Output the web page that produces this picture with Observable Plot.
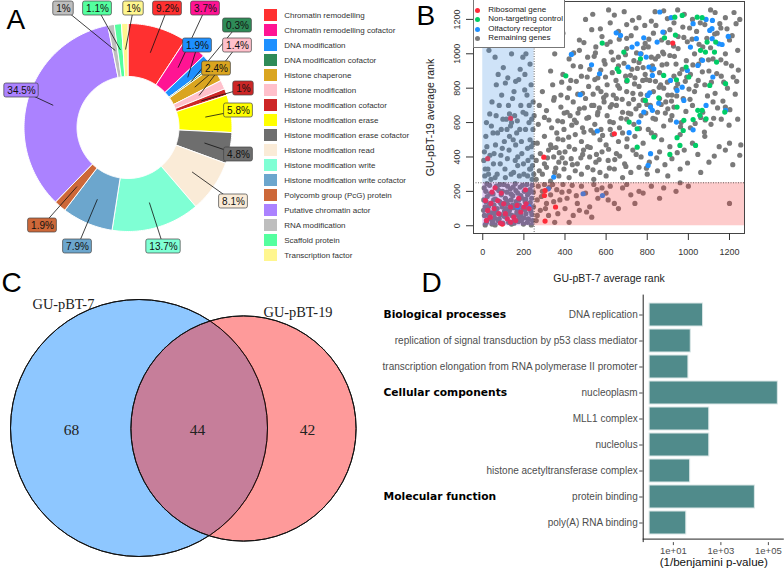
<!DOCTYPE html>
<html><head><meta charset="utf-8">
<script src="https://cdn.jsdelivr.net/npm/d3@7"></script>
<script src="https://cdn.jsdelivr.net/npm/@observablehq/plot@0.6"></script>
<style>
body{margin:0;background:#fff;}
#root{position:relative;width:784px;height:569px;overflow:hidden;background:#fff;font-family:"Liberation Sans",Arial,sans-serif;}
.panel{position:absolute;}
.panel svg{overflow:visible;}
.lg{position:absolute;font-size:8px;color:#222;white-space:nowrap;line-height:1;}
.lgdot{position:absolute;width:5px;height:5px;border-radius:50%;}
</style></head><body><div id="root"></div>
<script>
// ---------------- DATA ----------------
// Panel A
const categories = ["Chromatin remodelling","Chromatin remodelling cofactor","DNA modification","DNA modification cofactor","Histone chaperone","Histone modification","Histone modification cofactor","Histone modification erase","Histone modification erase cofactor","Histone modification read","Histone modification write","Histone modification write cofactor","Polycomb group (PcG) protein","Putative chromatin actor","RNA modification","Scaffold protein","Transcription factor"];
const percentages = [9.2,3.7,1.9,0.3,2.4,1.4,1,5.8,4.8,8.1,13.7,7.9,1.9,34.5,1,1.1,1];
const categoryColors = ["#ff3030","#ff1493","#1e90ff","#2e8b57","#daa520","#ffc0cb","#cd2626","#ffff00","#6e6e6e","#faebd7","#7fffd4","#6ca6cd","#cd6839","#ab82ff","#bebebe","#54ff9f","#fff68f"];

// Panel B  [GU-pBT-7 rank, GU-pBT-19 rank]
const rankTicks = [0,200,400,600,800,1000,1200];
const hitThreshold = 250;
const ribosomalGenes = [[24,390],[135,624],[297,399],[640,535],[924,1062],[303,205],[300,176],[303,27],[354,109],[60,221],[45,196],[24,89],[18,31],[37,50],[78,70],[86,16],[110,70],[135,21],[151,50],[167,118],[208,209],[200,109],[211,128],[13,147],[73,147],[102,128],[135,109],[95,10],[160,30],[185,80],[55,100],[120,40],[175,160],[225,100],[40,130],[90,190]];
const nonTargeting = [[934,1213],[970,1223],[1043,1213],[1067,1210],[937,1109],[884,1093],[1059,1020],[1091,1068],[1127,1010],[1083,1010],[1137,952],[1181,826],[1104,816],[989,923],[1002,865],[942,849],[880,874],[856,744],[791,729],[945,690],[1046,671],[1056,642],[1067,671],[1086,622],[1023,618],[978,613],[975,554],[959,467],[910,415],[945,512],[1035,467],[1177,661],[751,564],[712,603],[832,516],[751,457],[581,1062],[686,1010],[654,913],[662,897],[702,845],[404,872],[767,971],[1133,1068]];
const olfactory = [[861,1243],[916,1210],[876,1126],[848,1068],[649,1122],[670,1107],[431,996],[529,936],[568,884],[474,762],[557,551],[712,541],[759,603],[783,661],[816,690],[856,713],[803,758],[812,773],[825,874],[808,923],[832,913],[783,1093],[751,1058],[767,1000],[726,1039],[945,787],[913,845],[970,806],[995,903],[1010,1039],[1023,1175],[1039,1088],[1046,932],[1069,962],[1086,1200],[1104,1136],[1116,1088],[1117,1194],[1148,1058],[1164,1054],[1194,1101],[1115,1146],[1119,865],[1086,700],[1181,671],[978,729],[1023,558],[942,603],[825,671],[795,981],[707,923],[816,419],[804,351],[345,283],[319,215],[488,186],[582,176],[224,112],[170,109]];
const remainingGenes = [
[5,150],[8,60],[12,110],[15,200],[18,20],[22,170],[25,95],[30,40],[33,235],[38,130],[42,75],[45,10],[50,185],[55,120],[58,45],[62,155],[66,230],[70,100],[74,30],[78,205],[82,140],[86,65],[90,180],[94,110],[98,15],[102,240],[106,85],[110,160],[114,50],[118,195],[122,125],[126,20],[130,90],[134,215],[138,150],[142,60],[146,175],[150,105],[154,35],[158,245],[162,140],[166,80],[170,190],[174,25],[178,120],[182,225],[186,60],[190,160],[194,100],[198,10],[202,200],[206,140],[210,70],[214,240],[218,180],[222,40],[226,115],[230,210],[234,85],[238,160],[242,30],[246,195],[12,5],[60,5],[140,10],[20,245],[100,130],[175,150],[215,110],[240,235],
[4,90],[16,140],[27,60],[35,185],[48,25],[53,150],[64,80],[71,215],[80,40],[88,130],[96,200],[104,55],[112,100],[121,230],[128,70],[137,185],[145,120],[152,15],[161,205],[169,95],[177,50],[185,175],[193,235],[201,45],[209,155],[217,20],[224,190],[231,135],[239,65],[247,110],[7,220],[29,115],[57,70],[83,240],[117,145],[148,225],[188,30],[236,5],[205,95],[165,65],
[10,290],[25,330],[40,270],[55,420],[15,520],[70,300],[85,360],[95,450],[110,280],[120,390],[130,520],[140,600],[150,310],[160,470],[170,350],[180,560],[190,420],[200,300],[210,650],[220,380],[230,500],[240,270],[245,720],[235,820],[225,600],[215,760],[205,880],[195,980],[185,700],[175,850],[165,540],[155,640],[145,740],[135,580],[125,700],[115,620],[105,490],[90,560],[80,700],[65,640],[50,540],[35,410],[20,460],[60,980],[140,1000],[100,920],[210,1000],[230,940],[190,1130],[160,840],[240,400],[232,330],[218,290],[244,560],[236,460],[110,830],[75,880],[45,720],[5,380],[30,1020],
[8,430],[18,600],[28,300],[42,580],[52,360],[62,470],[72,540],[88,410],[98,620],[108,330],[118,560],[128,440],[138,300],[148,500],[158,380],[168,610],[178,290],[188,490],[198,360],[208,560],[218,450],[228,330],[238,620],[246,480],[242,350],[226,700],[204,790],[182,910],[152,780],[122,860],[92,760],[66,820],[34,650],[196,660],[248,300],[170,400],[130,650],[60,280],[12,330],[250,640],
[260,30],[265,150],[270,230],[280,90],[290,200],[300,240],[310,130],[320,60],[330,180],[340,240],[350,20],[360,210],[375,150],[390,240],[400,100],[420,200],[440,60],[460,130],[480,230],[500,190],[520,110],[540,240],[560,160],[580,220],[620,230],[640,130],[680,220],[720,180],[760,200],[780,190],[820,230],[880,220],[940,200],[960,250],[1200,130],[420,20],[470,90],[530,50],[600,190],[660,100],
[265,60],[285,170],[305,100],[325,225],[345,140],[365,70],[385,195],[410,160],[435,235],[455,175],[505,80],[555,210],[610,150],[700,240],[740,130],[860,160],[1000,230],
[260,270],[275,320],[290,300],[310,340],[330,260],[350,310],[370,290],[395,330],[420,280],[450,320],[480,300],[510,340],[540,270],[570,310],[600,290],[640,330],[680,280],[720,310],[760,340],[800,300],[850,320],[900,290],[960,330],[1060,310],
[260,380],[280,420],[300,360],[320,440],[345,400],[370,370],[400,430],[430,390],[460,360],[490,440],[520,400],[550,370],[580,430],[610,380],[650,420],[690,360],[730,440],[770,400],[810,370],[860,430],[920,390],[980,440],[1100,370],[1180,440],[1250,410],
[265,480],[300,520],[330,470],[360,540],[390,500],[420,460],[450,530],[480,490],[510,460],[540,540],[570,500],[600,470],[630,530],[660,490],[700,460],[740,520],[780,480],[820,540],[870,500],[910,460],[960,530],[1020,480],[1080,520],[1150,460],[1200,480],[1255,470],
[270,590],[300,630],[335,570],[365,610],[395,560],[425,640],[455,600],[485,570],[515,630],[545,590],[575,560],[605,640],[635,600],[665,570],[700,620],[735,590],[770,640],[805,560],[840,620],[880,580],[920,640],[965,600],[1010,570],[1060,630],[1110,590],[1160,620],[1240,620],
[275,700],[310,670],[345,730],[380,690],[410,660],[440,720],[470,680],[500,740],[530,700],[560,660],[590,720],[620,690],[650,740],[680,660],[710,710],[745,680],[780,730],[815,700],[850,660],[890,720],[930,690],[975,740],[1020,700],[1070,660],[1120,720],[1180,690],
[290,780],[340,820],[380,760],[420,800],[455,840],[485,770],[515,810],[545,850],[575,780],[605,820],[635,760],[665,800],[700,840],[730,770],[760,810],[795,850],[830,780],[865,820],[900,760],[940,800],[985,840],[1030,780],[1080,820],[1130,770],[1190,800],[1235,840],
[330,900],[390,880],[440,930],[480,870],[520,910],[560,860],[595,940],[630,890],[660,930],[695,870],[725,910],[760,950],[790,880],[825,930],[860,890],[895,940],[930,870],[970,910],[1010,880],[1050,940],[1100,900],[1160,870],[1210,930],
[350,1000],[420,970],[470,1020],[510,980],[550,1040],[590,960],[625,1010],[660,980],[700,1030],[735,960],[770,1000],[805,1040],[840,970],[875,1010],[910,990],[950,1030],[990,960],[1030,1000],[1070,1040],[1120,970],[1180,1000],[1240,1020],
[390,1120],[470,1080],[530,1140],[580,1100],[620,1070],[660,1130],[700,1090],[745,1150],[790,1060],[830,1120],[870,1080],[910,1140],[950,1100],[995,1070],[1040,1130],[1090,1090],[1140,1120],[1200,1080],
[500,1200],[535,1230],[620,1180],[640,1225],[700,1170],[760,1210],[820,1190],[880,1250],[930,1180],[980,1230],[1020,1200],[1080,1170],[1130,1240],[1180,1210],[1250,1200],
[720,650],[760,700],[800,760],[840,840],[880,800],[920,760],[700,780],[740,860],[780,920],[820,980],[860,740],[900,680],[650,700],[600,760],[620,560],[680,540],[560,800],[540,700],[880,1000],[940,940],
[315,395],[335,455],[355,335],[372,425],[388,605],[402,365],[418,515],[433,585],[447,445],[463,655],[477,395],[492,545],[506,625],[523,455],[537,765],[553,415],[567,685],[583,525],[597,865],[612,445],[628,705],[642,385],[657,815],[673,625],[687,945],[702,505],[718,875],[733,735],[748,1005],[762,565],[778,845],[793,655],[808,1085],[823,905],[838,525],[853,985],[868,705],[883,1125],[898,835],[913,615],[928,1045],[943,755],[958,885],[973,1155],[988,665],[1003,795],[1018,1085],[1033,595],[1048,845],[1063,965],[1078,545],[1093,755],[1108,1035],[1123,625],[1138,885],[1153,1175],[1168,725],[1183,945],[1198,585],[1213,1105],[1228,765],[1243,905],
[322,615],[348,745],[366,505],[384,835],[396,655],[412,745],[428,845],[446,615],[462,765],[476,925],[494,685],[508,865],[526,555],[542,985],[558,645],[574,905],[588,745],[604,1055],[618,605],[634,965],[648,845],[664,1085],[678,735],[694,995],[708,655],[722,1105],[738,825],[752,915],[768,765],[782,1035],[798,705],[812,845],[828,625],[842,1165],[858,805],[872,935],[888,655],[902,1065],[918,725],[932,985],[948,825],[962,575],[978,1095],[992,865],[1008,735],[1022,935],[1038,815],[1052,1055],[1068,895],[1082,615],[1098,965],[1112,835],[1128,1115],[1142,685],[1158,965],[1172,835],[1188,1145],[1202,675],[1218,865],[1232,1175],
[356,455],[386,395],[436,355],[486,415],[536,325],[566,385],[616,335],[666,405],[696,345],[746,415],[796,335],[846,395],[886,355],[946,425],[996,365],[1046,415],[1126,405],[1216,355],
[442,1005],[492,1065],[548,1005],[572,1145],[612,1255],[688,1245],[728,1195],[788,1165],[838,1245],[898,1205],[948,1255],[1006,1150],[1058,1180],[1108,1255],[1158,1150],[1222,1240]
];
const geneLegend = ["Ribosomal gene","Non-targeting control","Olfactory receptor","Remaining genes"];
const geneColors = ["#ff2a3a","#00cd66","#1e90ff","#7a7a7a"];

// Panel C
const vennSets = ["GU-pBT-7","GU-pBT-19"];
const vennOnly = [68, 42];
const vennShared = 44;

// Panel D
const goTerms = ["DNA replication","replication of signal transduction by p53 class mediator","transcription elongation from RNA polymerase II promoter","nucleoplasm","MLL1 complex","nucleolus","histone acetyltransferase complex","protein binding","poly(A) RNA binding"];
const goValues = [178, 54, 43, 250000, 325, 325, 51, 27000, 35];
const goGroupNames = ["Biological processes","Cellular components","Molecular function"];
const goGroupFirstTerm = ["DNA replication","nucleoplasm","protein binding"];
const goTicks = [10, 1000, 100000];

// ---------------- LAYOUT ----------------
const root = document.getElementById("root");
function place(node, left, top){ const d=document.createElement("div"); d.className="panel"; d.style.left=left+"px"; d.style.top=top+"px"; d.appendChild(node); root.appendChild(d); return d; }
const ctx = document.createElement("canvas").getContext("2d");

// ===== Panel A: donut =====
const PIE_CX = 127.5, PIE_CY = 127, R_OUT = 104, R_IN = 51, R_LEAD = 78;
const pieLabelPos = [[167,8],[205,8],[197,45],[237,25],[216,68],[237,45],[243,88],[238,110],[238,154],[233,201],[163,246],[77,246],[42,225],[21,90],[63,8],[97,8],[133,8]];
const arcs = d3.pie().sort(null).value(d => d.value)(categories.map((c,i)=>({category:c, value:percentages[i]})));
const sliceRows = [];
arcs.forEach(s => {
  const n = Math.max(2, Math.ceil((s.endAngle - s.startAngle)/0.02));
  const pts = [];
  for (let k=0;k<=n;k++) pts.push([s.startAngle + (s.endAngle-s.startAngle)*k/n, R_OUT]);
  for (let k=n;k>=0;k--) pts.push([s.startAngle + (s.endAngle-s.startAngle)*k/n, R_IN]);
  pts.push([s.startAngle, R_OUT]);
  pts.forEach(([a,r]) => sliceRows.push({category:s.data.category, x: PIE_CX + r*Math.sin(a), y: PIE_CY - r*Math.cos(a)}));
});
ctx.font = "10px 'Liberation Sans'";
const pieLabels = arcs.map((s,i) => {
  const m = (s.startAngle + s.endAngle)/2;
  const text = percentages[i] + "%";
  const w = ctx.measureText(text).width + 6;
  const [lx, ly] = pieLabelPos[i];
  return {category: s.data.category, text, lx, ly, w, px: PIE_CX + R_LEAD*Math.sin(m), py: PIE_CY - R_LEAD*Math.cos(m)};
});
const colorScale = {domain: categories, range: categoryColors};
const panelA = Plot.plot({
  width: 255, height: 262, margin: 0,
  x: {domain:[0,255], range:[0,255], axis:null},
  y: {domain:[0,262], range:[0,262], axis:null},
  color: colorScale,
  style: {fontFamily: "Liberation Sans", overflow: "visible", background: "transparent"},
  marks: [
    Plot.line(sliceRows, {x:"x", y:"y", z:"category", fill:"category", stroke:"white", strokeWidth:1, curve:"linear"}),
    Plot.link(pieLabels, {x1:"lx", y1:"ly", x2:"px", y2:"py", stroke:"#111", strokeWidth:0.8}),
    Plot.rect(pieLabels, {x1: d=>d.lx-d.w/2, x2: d=>d.lx+d.w/2, y1: d=>d.ly-7, y2: d=>d.ly+7, fill:"category", stroke:"#444", strokeWidth:0.7, rx:2}),
    Plot.text(pieLabels, {x:"lx", y:"ly", text:"text", fontSize:10, fill:"#111"})
  ]
});
place(panelA, 0, 0);

const legendA = Plot.plot({
  width: 160, height: 270, margin: 0,
  x: {domain:[0,160], range:[0,160], axis:null},
  y: {type:"band", domain: categories, range:[2.8, 267], paddingInner:0.17, paddingOuter:0, axis:null},
  color: colorScale,
  style: {fontFamily: "Liberation Sans", overflow: "visible"},
  marks: [
    Plot.barX(categories, {x1: 9, x2: 22, y: d=>d, fill: d=>d}),
    Plot.text(categories, {x: 28.7, y: d=>d, text: d=>d, textAnchor:"start", fontSize: 8, fill:"#333"})
  ]
});
place(legendA, 255, 0);

// ===== Panel B: scatter =====
const B_TOP = 1304, B_RIGHT = 1273;
const regions = [
  {x1:0, x2:hitThreshold, y1:hitThreshold, y2:B_TOP, fill:"#3f8fe3"},
  {x1:hitThreshold, x2:B_RIGHT, y1:0, y2:hitThreshold, fill:"#f72f2f"},
  {x1:0, x2:hitThreshold, y1:0, y2:hitThreshold, fill:"#8b43db"}
];
const panelB = Plot.plot({
  width: 369, height: 290, marginLeft: 58, marginRight: 40, marginTop: 1, marginBottom: 57,
  x: {domain:[-45, B_RIGHT]},
  y: {domain:[-45, B_TOP]},
  style: {fontFamily: "Liberation Sans", overflow: "visible", color:"#222"},
  marks: [
    Plot.dot(remainingGenes, {x: d=>d[0], y: d=>d[1], r: 2.6, fill: geneColors[3]}),
    Plot.dot(olfactory, {x: d=>d[0], y: d=>d[1], r: 2.6, fill: geneColors[2]}),
    Plot.dot(nonTargeting, {x: d=>d[0], y: d=>d[1], r: 2.6, fill: geneColors[1]}),
    Plot.dot(ribosomalGenes, {x: d=>d[0], y: d=>d[1], r: 2.6, fill: geneColors[0]}),
    Plot.rect(regions, {x1:"x1", x2:"x2", y1:"y1", y2:"y2", fill:"fill", fillOpacity:0.25}),
    Plot.ruleX([hitThreshold], {stroke:"#444", strokeWidth:0.8, strokeDasharray:"1,1.5"}),
    Plot.ruleY([hitThreshold], {stroke:"#444", strokeWidth:0.8, strokeDasharray:"1,1.5"}),
    Plot.frame({stroke:"#444"}),
    Plot.axisX({ticks: rankTicks, tickFormat: d => String(d), tickSize: 7, tickPadding: 8, fontSize: 9, label: null, color:"#333"}),
    Plot.axisY({ticks: rankTicks, tickFormat: d => String(d), tickSize: 7, tickPadding: 7, fontSize: 9, tickRotate: -90, label: null, color:"#333"}),
    Plot.text(["GU-pBT-7 average rank"], {frameAnchor:"bottom", dy: 44.7, lineAnchor:"middle", fontSize: 10.5, fill:"#222"}),
    Plot.text(["GU-pBT-19 average rank"], {frameAnchor:"left", dx: -43, rotate: -90, textAnchor:"middle", lineAnchor:"middle", fontSize: 10.5, fill:"#222"})
  ]
});
place(panelB, 415, 0);

// legend B (HTML overlay)
const lgB = document.createElement("div");
lgB.style.cssText = "position:absolute;left:473px;top:-2px;width:92px;height:50px;border:1px solid #777;background:#fff;box-sizing:border-box;";
root.appendChild(lgB);
geneLegend.forEach((name,i) => {
  const yc = [10,19.7,29.3,38.7][i];
  const dot = document.createElement("div"); dot.className="lgdot";
  dot.style.cssText += `left:${477.3-2.5}px;top:${yc-2.5}px;background:${geneColors[i]};`;
  root.appendChild(dot);
  const t = document.createElement("div"); t.className="lg"; t.textContent = name;
  t.style.left = "488.3px"; t.style.top = (yc-4.5)+"px";
  root.appendChild(t);
});

// ===== Panel C: Venn =====
const vennTotals = [vennOnly[0]+vennShared, vennOnly[1]+vennShared];
const vennLayout = [{cx:138.5, cy:427.5, fill:"#1e90ff"}, {cx:243, cy:428, fill:"#fd3535"}];
const vennCircles = vennSets.map((s,i)=>({set:s, total:vennTotals[i], ...vennLayout[i]}));
const vennCounts = [{text:String(vennOnly[0]), x:71, y:430}, {text:String(vennShared), x:197, y:430}, {text:String(vennOnly[1]), x:307, y:430}];
const vennNames = [{text:vennSets[0], x:32, y:308.5}, {text:vennSets[1], x:263, y:316}];
const panelC = Plot.plot({
  width: 370, height: 289, margin: 0,
  x: {domain:[0,370], range:[0,370], axis:null},
  y: {domain:[280,569], range:[0,289], axis:null},
  r: {type:"sqrt", domain:[0, vennTotals[0]], range:[0,128.5]},
  style: {fontFamily: "Liberation Serif", overflow: "visible"},
  marks: [
    Plot.dot(vennCircles, {x:"cx", y:"cy", r:"total", fill:"fill", fillOpacity:0.5, stroke:"#111", strokeWidth:1}),
    Plot.dot(vennCircles, {x:"cx", y:"cy", r:"total", fill:"none", stroke:"#111", strokeWidth:1}),
    Plot.text(vennCounts, {x:"x", y:"y", text:"text", fontSize:15.5, fill:"#222"}),
    Plot.text(vennNames, {x:"x", y:"y", text:"text", textAnchor:"start", lineAnchor:"bottom", fontSize:14.4, fill:"#222"})
  ]
});
place(panelC, 0, 280);

// ===== Panel D: GO bars =====
const goRows = goTerms.map((t,i)=>({term:t, value:goValues[i]}));
const goGroupRows = goGroupNames.map((g,i)=>({group:g, term:goGroupFirstTerm[i]}));
const panelD = Plot.plot({
  width: 414, height: 284, marginLeft: 272.7, marginRight: 0.2, marginTop: 9.6, marginBottom: 26.9,
  x: {type:"log", domain:[Math.pow(10,-0.27), Math.pow(10,5.67)]},
  y: {type:"band", domain: goTerms, paddingInner: 0.1, paddingOuter: 0.15},
  style: {fontFamily: "Liberation Sans", overflow: "visible"},
  marks: [
    Plot.barX(goRows, {x1: 1, x2: "value", y: "term", fill:"#508b8b", stroke:"#dbe7e7", strokeWidth:1}),
    Plot.ruleX([Math.pow(10,-0.27)], {stroke:"#222", strokeWidth:1}),
    Plot.ruleY([goTerms[goTerms.length-1]], {dy: 16.1, stroke:"#222", strokeWidth:1}),
    Plot.axisY({tickSize: 3.5, tickPadding: 2, fontSize: 10, color:"#4d4d4d", label:null}),
    Plot.axisX({ticks: goTicks, tickFormat: d => "1e+" + String(Math.round(Math.log10(d))).padStart(2,"0"), tickSize: 3, tickPadding: 1.5, fontSize: 9.5, color:"#4d4d4d", label:null}),
    Plot.text(["(1/benjamini p-value)"], {frameAnchor:"bottom", dy: 19.5, lineAnchor:"middle", fontSize: 11.6, fill:"#111"}),
    Plot.text(goGroupRows, {y:"term", text:"group", frameAnchor:"left", dx:-259.7, textAnchor:"start", fontWeight:"bold", fontFamily:"DejaVu Sans", fontSize:10.7, fill:"#000"})
  ]
});
place(panelD, 370, 285);

// ===== panel letters =====
const ns = "http://www.w3.org/2000/svg";
const lsvg = document.createElementNS(ns, "svg");
lsvg.setAttribute("width", 784); lsvg.setAttribute("height", 569);
lsvg.style.cssText = "position:absolute;left:0;top:0;pointer-events:none;";
[["A",6.5,29],["B",416.5,25],["C",1.5,292],["D",421.5,292]].forEach(([t,x,y]) => {
  const e = document.createElementNS(ns, "text");
  e.setAttribute("x", x); e.setAttribute("y", y);
  e.setAttribute("font-family", "Liberation Sans"); e.setAttribute("font-size", 28);
  e.textContent = t; lsvg.appendChild(e);
});
root.appendChild(lsvg);
</script>
</body></html>
